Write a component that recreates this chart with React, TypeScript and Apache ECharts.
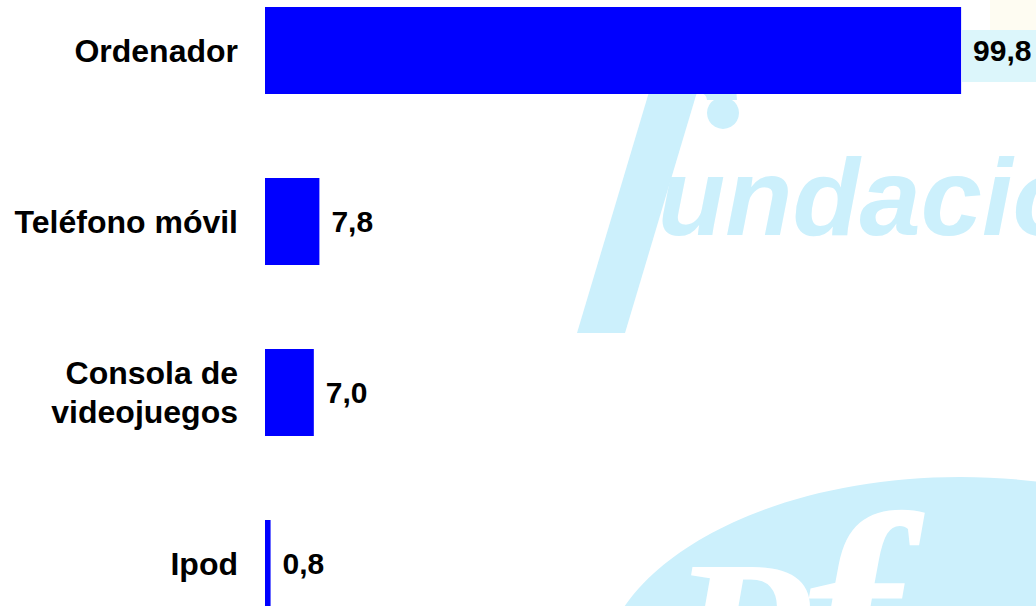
import React, { useEffect, useRef } from "react";
import * as echarts from "echarts";

const categories: string[] = ["Ordenador", "Teléfono móvil", "Consola de\nvideojuegos", "Ipod"];
const values: number[] = [99.8, 7.8, 7.0, 0.8];
const axisMax = 100;

const WM = "#ccf0fc";
const FONT = "'Liberation Sans', Arial, sans-serif";
const OY = 35; // the chart div starts 35px above the page top

export default function App() {
  const ref = useRef<HTMLDivElement>(null);
  useEffect(() => {
    if (!ref.current) return;
    const chart = echarts.init(ref.current, undefined, { renderer: "svg" });
    chart.setOption({
      animation: false,
      backgroundColor: "#ffffff",
      graphic: [
        { type: "rect", z: 0, shape: { x: 962, y: 30 + OY, width: 74, height: 52 }, style: { fill: "#dcf6fb" } },
        { type: "rect", z: 0, shape: { x: 990, y: 0 + OY, width: 46, height: 30 }, style: { fill: "#fefcf2" } },
        {
          type: "polygon", z: 0,
          shape: { points: [[577, 333 + OY], [625, 333 + OY], [700, 82 + OY], [652, 82 + OY]] },
          style: { fill: WM },
        },
        { type: "arc", z: 0, shape: { cx: 700, cy: 100 + OY, r: 22, startAngle: Math.PI, endAngle: 2 * Math.PI }, style: { stroke: WM, lineWidth: 30, fill: "none" } },
        { type: "circle", z: 0, shape: { cx: 723, cy: 113 + OY, r: 16 }, style: { fill: WM } },
        {
          type: "text", z: 0, x: 658, y: 196 + OY,
          style: { text: "undación", font: `italic bold 110px ${FONT}`, fill: WM, verticalAlign: "middle", align: "left" },
        },
        { type: "ellipse", z: 0, shape: { cx: 960, cy: 680 + OY, rx: 360, ry: 203 }, style: { fill: WM } },
        {
          type: "text", z: 1, x: 668, y: 640 + OY,
          style: { text: "P", font: `italic bold 230px 'Liberation Serif', serif`, fill: "#ffffff", verticalAlign: "middle", align: "left" },
        },
        {
          type: "text", z: 1, x: 800, y: 620 + OY,
          style: { text: "f", font: `italic bold 300px 'Liberation Serif', serif`, fill: "#ffffff", verticalAlign: "middle", align: "left" },
        },
      ],
      grid: { left: 265, top: 0, width: 697.5, height: 684, containLabel: false },
      xAxis: { type: "value", min: 0, max: axisMax, show: false },
      yAxis: {
        type: "category",
        inverse: true,
        data: categories,
        axisLine: { show: false },
        axisTick: { show: false },
        splitLine: { show: false },
        axisLabel: {
          margin: 27,
          fontSize: 32,
          fontWeight: "bold",
          color: "#000",
          fontFamily: FONT,
          lineHeight: 39,
        },
      },
      series: [
        {
          type: "bar",
          data: values,
          barWidth: 87,
          z: 5,
          itemStyle: { color: "#0000ff" },
          label: {
            show: true,
            position: "right",
            distance: 12,
            fontSize: 30,
            fontWeight: "bold",
            color: "#000",
            fontFamily: FONT,
            formatter: (p: any) => Number(p.value).toFixed(1).replace(".", ","),
          },
        },
      ],
    });
    return () => chart.dispose();
  }, []);
  return <div ref={ref} style={{ position: "absolute", left: 0, top: -OY, width: 1036, height: 685 }} />;
}
